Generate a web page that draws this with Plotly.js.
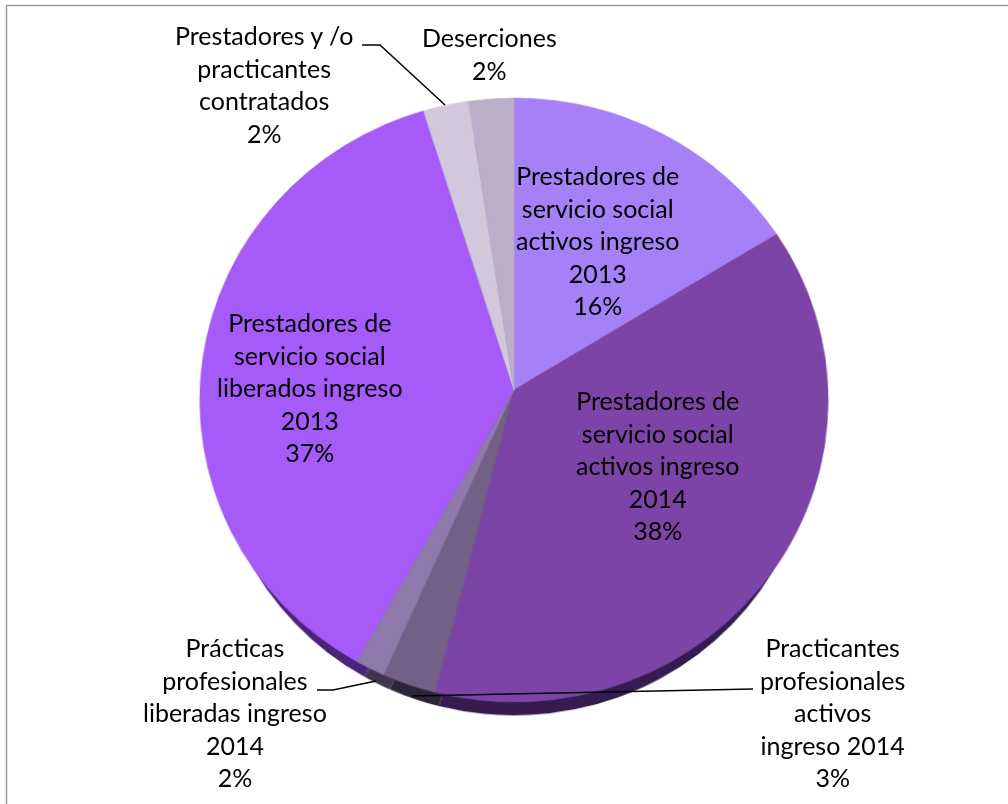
<!DOCTYPE html>
<html><head><meta charset="utf-8">
<script src="https://cdn.plot.ly/plotly-3.0.1.min.js"></script>
<style>html,body{margin:0;padding:0;background:#fff;overflow:hidden}
#stage{position:relative;width:1008px;height:804px;overflow:hidden}
#pie,#labels{position:absolute;left:0;top:0;width:1008px;height:804px}
#pie{transform-origin:514px 390px;transform:perspective(2628px) rotateX(16.1deg)}
</style></head>
<body><div id="stage"><div id="pie"></div><div id="labels"></div></div>
<script>
const categories=["Prestadores de servicio social activos ingreso 2013","Prestadores de servicio social activos ingreso 2014","Practicantes profesionales activos ingreso 2014","Prácticas profesionales liberadas ingreso 2014","Prestadores de servicio social liberados ingreso 2013","Prestadores y /o practicantes contratados","Deserciones"];
const values=[16.2,37.7,2.7,1.5,37.1,2.4,2.4];
const topColors=["#A580F7","#7C44A6","#726087","#8F79AA","#A65AF8","#D1C8DC","#BBAEC9"];
const sideColors=["#351B50","#351B50","#2C2438","#3F364C","#4A2478","#351B50","#351B50"];
const labelTexts=["Prestadores de<br>servicio social<br>activos ingreso<br>2013<br>16%","Prestadores de<br>servicio social<br>activos ingreso<br>2014<br>38%","Practicantes<br>profesionales<br>activos<br>ingreso 2014<br>3%","Prácticas<br>profesionales<br>liberadas ingreso<br>2014<br>2%","Prestadores de<br>servicio social<br>liberados ingreso<br>2013<br>37%","Prestadores y /o<br>practicantes<br>contratados<br>2%","Deserciones<br>2%"];
const labelX=[597,657,832,235,310,264,489];
const labelY=[240,465,712,712,387,84,54];
const W=1008,H=804;
const dom=(cx,cy,r)=>({x:[(cx-r)/W,(cx+r)/W],y:[1-(cy+r)/H,1-(cy-r)/H]});
const base={type:'pie',labels:categories,values:values,sort:false,direction:'clockwise',rotation:0,textinfo:'none',hoverinfo:'label+percent',showlegend:false};
const data=[
 Object.assign({},base,{domain:dom(514,419,298),marker:{colors:sideColors,line:{width:0}}}),
 Object.assign({},base,{domain:dom(514,390,314),marker:{colors:topColors,line:{color:topColors,width:0.6}}})
];
const px=(x)=>x/W, py=(y)=>1-y/H;
const seg=(pts)=>({type:'path',xref:'paper',yref:'paper',path:'M'+pts.map(p=>px(p[0])+','+py(p[1])).join('L'),line:{color:'#000',width:1.5}});
const frame={type:'rect',xref:'paper',yref:'paper',x0:px(6.5),x1:px(1020),y0:py(820),y1:py(5.5),line:{color:'#9a9a9a',width:1.5},fillcolor:'rgba(0,0,0,0)'};
const pieLayout={width:W,height:H,margin:{l:0,r:0,t:0,b:0},paper_bgcolor:'rgba(0,0,0,0)'};
const labelLayout={width:W,height:H,margin:{l:0,r:0,t:0,b:0},paper_bgcolor:'rgba(0,0,0,0)',plot_bgcolor:'rgba(0,0,0,0)',
 xaxis:{visible:false},yaxis:{visible:false},
 shapes:[frame,seg([[362,45],[380,45],[445,105]]),seg([[317,690],[333,690],[376,681]]),seg([[412,696],[753,689]])],
 annotations:categories.map((c,i)=>({xref:'paper',yref:'paper',x:px(labelX[i]),y:py(labelY[i]),text:labelTexts[i],showarrow:false,align:'center',xanchor:'center',yanchor:'middle',font:{family:'Lato, Carlito, sans-serif',size:25,color:'#000'}}))
};
Plotly.newPlot('pie',data,pieLayout,{displayModeBar:false,staticPlot:true});
Plotly.newPlot('labels',[],labelLayout,{displayModeBar:false,staticPlot:true});
</script></body></html>
